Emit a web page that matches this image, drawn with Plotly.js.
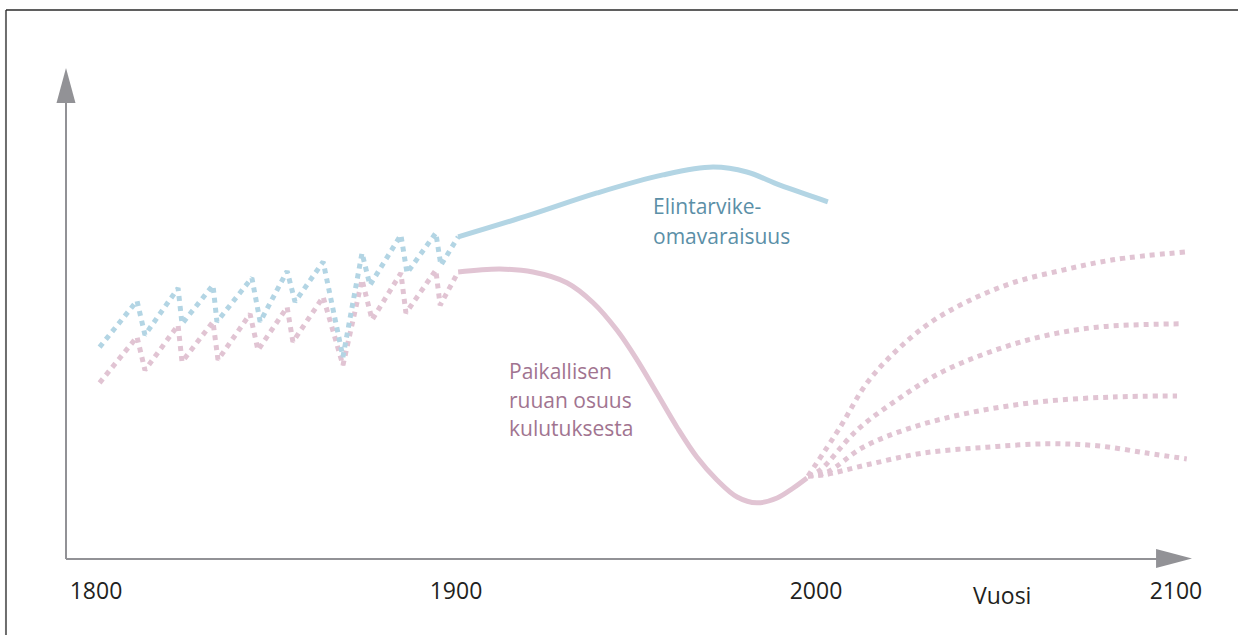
<!DOCTYPE html>
<html>
<head>
<meta charset="utf-8">
<script src="https://cdn.plot.ly/plotly-3.0.1.min.js"></script>
<style>
html,body{margin:0;padding:0;background:#fff;}
#chart{width:1238px;height:635px;}
</style>
</head>
<body>
<div id="chart"></div>
<script>
// Self-sufficiency (blue) – dotted sawtooth until 1900, then solid
const blueSawYears  = [1801, 1811.4, 1813.6, 1822.8, 1823.9, 1832.5, 1833.6, 1843.3, 1845.6, 1853.1, 1855.3, 1863.1, 1868.6, 1873.9, 1876.1, 1884.7, 1886.4, 1894.4, 1895.8, 1900.6];
const blueSawValues = [43.2, 52.7, 45.7, 55.3, 48.0, 55.9, 48.4, 57.4, 48.4, 58.8, 52.5, 60.7, 41.2, 62.5, 55.9, 66.2, 58.4, 66.6, 60.0, 65.8];
const blueYears  = [1900.6, 1920.6, 1939.2, 1957.5, 1971.4, 1980.8, 1990.0, 2003.3];
const blueValues = [65.8, 70.3, 74.8, 78.5, 80.1, 79.1, 76.4, 73.0];

// Share of local food (pink)
const pinkSawYears  = [1801, 1811.4, 1813.6, 1822.8, 1823.9, 1832.5, 1833.9, 1842.8, 1845.0, 1853.1, 1854.7, 1863.1, 1868.6, 1873.9, 1876.7, 1884.7, 1886.1, 1894.4, 1895.6, 1900.6];
const pinkSawValues = [35.9, 45.3, 38.5, 47.7, 40.2, 48.4, 40.6, 50.0, 42.6, 51.4, 44.3, 53.5, 39.5, 57.0, 48.8, 58.4, 50.2, 59.0, 51.8, 58.6];
const pinkYears  = [1900.6, 1912.2, 1921.4, 1930.8, 1938.1, 1944.7, 1950.3, 1955.8, 1961.4, 1966.9, 1972.5, 1978.1, 1983.6, 1989.2, 1993.6, 1997.5];
const pinkValues = [58.6, 59.2, 58.6, 56.4, 52.3, 46.7, 40.6, 33.8, 26.8, 20.7, 16.0, 12.5, 11.3, 12.3, 14.3, 16.4];

// Future scenarios (pink dotted)
const scen1Years  = [1997.8, 2006.7, 2014.2, 2022.5, 2031.7, 2041.9, 2054.7, 2068.6, 2082.5, 2102.5];
const scen1Values = [16.8, 26.8, 35.9, 42.6, 48.2, 52.5, 56.4, 59.0, 61.1, 62.7];
const scen2Years  = [1997.8, 2001.1, 2011.4, 2022.5, 2034.4, 2047.5, 2062.2, 2078.1, 2101.7];
const scen2Values = [16.8, 18.0, 26.2, 32.4, 37.9, 42.0, 45.3, 47.3, 48.0];
const scen3Years  = [1997.8, 2003.1, 2013.1, 2026.9, 2043.6, 2062.2, 2082.5, 2100.3];
const scen3Values = [16.8, 17.6, 22.7, 26.8, 29.9, 32.0, 33.0, 33.2];
const scen4Years  = [1997.8, 2001.9, 2014.2, 2029.7, 2047.5, 2064.2, 2078.1, 2091.9, 2103.0];
const scen4Values = [16.8, 17.0, 19.1, 21.5, 22.7, 23.4, 23.0, 21.5, 20.3];

const tickYears  = [1800, 1900, 2000, 2100];
const tickLabels = ["1800", "1900", "2000", "2100"];

const BLUE = "#b3d5e4";
const PINK = "#e1c4d3";
const DOT = "5px,5px";

function tr(x, y, color, dash, shape) {
  return {
    x: x, y: y, type: "scatter", mode: "lines", hoverinfo: "skip", showlegend: false,
    line: {color: color, width: 5, dash: dash, shape: shape, smoothing: 1}
  };
}

const traces = [
  tr(pinkSawYears, pinkSawValues, PINK, DOT, "linear"),
  tr(blueSawYears, blueSawValues, BLUE, DOT, "linear"),
  tr(blueYears, blueValues, BLUE, "solid", "spline"),
  tr(pinkYears, pinkValues, PINK, "solid", "spline"),
  tr(scen1Years, scen1Values, PINK, DOT, "spline"),
  tr(scen2Years, scen2Values, PINK, DOT, "spline"),
  tr(scen3Years, scen3Values, PINK, DOT, "spline"),
  tr(scen4Years, scen4Values, PINK, DOT, "spline")
];

const AX = "#929296";
const FONT = "Open Sans, sans-serif";

const layout = {
  width: 1238, height: 635,
  margin: {l: 66, r: 48, t: 70, b: 77},
  paper_bgcolor: "#ffffff", plot_bgcolor: "#ffffff",
  showlegend: false,
  xaxis: {
    range: [1791.67, 2103.9], showgrid: false, zeroline: false, showline: false,
    tickmode: "array", tickvals: tickYears, ticktext: tickLabels, ticks: "",
    ticklabelstandoff: 17,
    tickfont: {family: FONT, size: 23, color: "#231f20"}, fixedrange: true
  },
  yaxis: {range: [0, 100], visible: false, fixedrange: true},
  shapes: [
    // outer frame
    {type: "line", xref: "paper", yref: "paper", x0: -0.0534, x1: -0.0534, y0: 1.123, y1: -0.2, line: {color: "#6d6d6d", width: 2}},
    {type: "line", xref: "paper", yref: "paper", x0: -0.0534, x1: 1.05, y0: 1.123, y1: 1.123, line: {color: "#2a2a2a", width: 1.5}},
    // y axis with arrow
    {type: "line", xref: "paper", yref: "paper", x0: 0, x1: 0, y0: -0.002, y1: 0.935, line: {color: AX, width: 2}},
    {type: "path", xref: "paper", yref: "paper", path: "M -0.00845 0.9324 L 0.00845 0.9324 L 0 1.0041 Z", fillcolor: AX, line: {width: 0}},
    // x axis with arrow
    {type: "line", xref: "paper", yref: "paper", x0: 0, x1: 0.972, y0: -0.002, y1: -0.002, line: {color: AX, width: 2}},
    {type: "path", xref: "paper", yref: "paper", path: "M 0.9698 0.0184 L 0.9698 -0.0205 L 1.0018 -0.001 Z", fillcolor: AX, line: {width: 0}}
  ],
  annotations: [
    {x: 1954.2, y: 72.1, xref: "x", yref: "y", text: "Elintarvike-", showarrow: false, xanchor: "left", yanchor: "middle",
     font: {family: FONT, size: 21, color: "#5b8fa7"}},
    {x: 1954.2, y: 66.0, xref: "x", yref: "y", text: "omavaraisuus", showarrow: false, xanchor: "left", yanchor: "middle",
     font: {family: FONT, size: 21, color: "#5b8fa7"}},
    {x: 1914.2, y: 38.3, xref: "x", yref: "y", text: "Paikallisen", showarrow: false, xanchor: "left", yanchor: "middle",
     font: {family: FONT, size: 21, color: "#a17490"}},
    {x: 1914.2, y: 32.4, xref: "x", yref: "y", text: "ruuan osuus", showarrow: false, xanchor: "left", yanchor: "middle",
     font: {family: FONT, size: 21, color: "#a17490"}},
    {x: 1914.2, y: 26.6, xref: "x", yref: "y", text: "kulutuksesta", showarrow: false, xanchor: "left", yanchor: "middle",
     font: {family: FONT, size: 21, color: "#a17490"}},
    {x: 0.8327, y: -0.0758, xref: "paper", yref: "paper", text: "Vuosi", showarrow: false, xanchor: "center", yanchor: "middle",
     font: {family: FONT, size: 23, color: "#231f20"}}
  ]
};

Plotly.newPlot("chart", traces, layout, {staticPlot: true, displayModeBar: false});
</script>
</body>
</html>
